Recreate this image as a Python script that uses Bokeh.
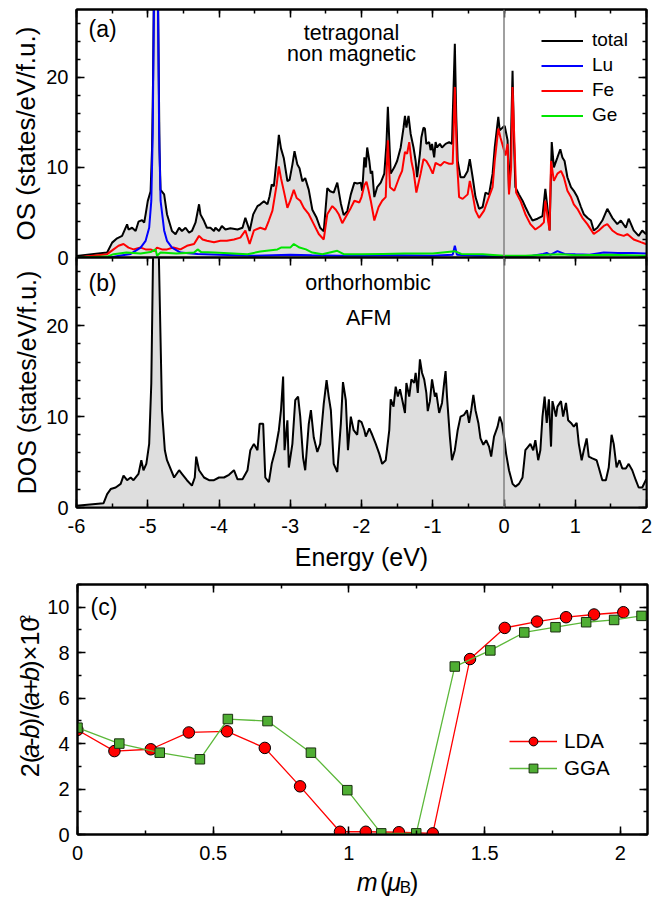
import math
from bokeh.plotting import figure
from bokeh.layouts import column, row
from bokeh.models import (LinearAxis, SingleIntervalTicker, Span, Label, Legend, LegendItem,
                          CustomJSTickFormatter, Range1d)
from bokeh.embed import file_html
from bokeh.resources import INLINE

FONT = "Liberation Sans"

# ---------------- panel (a): tetragonal, non magnetic ----------------
e_tot_a = [-6.00, -5.57, -5.50, -5.43, -5.36, -5.29, -5.27, -5.22, -5.17, -5.13, -5.08, -5.05, -5.03, -5.00,
           -4.96, -4.94, -4.925, -4.915, -4.885, -4.855, -4.845, -4.835, -4.82, -4.77, -4.73, -4.66, -4.61,
           -4.56, -4.52, -4.47, -4.42, -4.38, -4.33, -4.28, -4.26, -4.21, -4.17, -4.12, -4.07, -4.05, -4.00,
           -3.96, -3.91, -3.84, -3.74, -3.67, -3.63, -3.60, -3.57, -3.52, -3.46, -3.42, -3.37, -3.32, -3.29,
           -3.26, -3.23, -3.19, -3.16, -3.13, -3.09, -3.04, -3.01, -2.97, -2.94, -2.90, -2.87, -2.83, -2.79,
           -2.74, -2.69, -2.63, -2.58, -2.53, -2.48, -2.44, -2.39, -2.34, -2.29, -2.25, -2.20, -2.15, -2.10,
           -2.06, -2.01, -1.99, -1.96, -1.94, -1.92, -1.89, -1.87, -1.85, -1.82, -1.78, -1.73, -1.68, -1.65,
           -1.63, -1.61, -1.59, -1.54, -1.50, -1.45, -1.41, -1.39, -1.37, -1.34, -1.31, -1.27, -1.24, -1.22,
           -1.18, -1.16, -1.13, -1.11, -1.09, -1.05, -1.03, -1.01, -0.98, -0.96, -0.94, -0.90, -0.87, -0.82,
           -0.77, -0.73, -0.72, -0.69, -0.67, -0.65, -0.61, -0.56, -0.51, -0.48, -0.44, -0.40, -0.35, -0.30,
           -0.26, -0.21, -0.16, -0.13, -0.08, -0.06, -0.02, 0.01, 0.05, 0.07, 0.09, 0.12, 0.14, 0.16, 0.21,
           0.26, 0.30, 0.35, 0.40, 0.47, 0.54, 0.58, 0.62, 0.64, 0.67, 0.70, 0.75, 0.79, 0.82, 0.85, 0.89,
           0.94, 0.98, 1.03, 1.08, 1.12, 1.17, 1.22, 1.26, 1.31, 1.38, 1.45, 1.52, 1.59, 1.64, 1.71, 1.75,
           1.82, 1.89, 1.94, 1.99, 2.00]
dos_tot_a = [0.18, 0.55, 1.65, 2.13, 2.39, 3.68, 3.1, 3.3, 2.94, 3.97, 4.15, 3.86, 4.78, 6.25,
             7.35, 12.0, 20.0, 28.5, 44.0, 28.5, 20.0, 12.0, 7.5, 7.0, 4.8, 2.94, 2.57,
             3.3, 2.94, 3.3, 2.76, 2.94, 3.86, 5.9, 4.78, 4.04, 3.3, 3.3, 2.94, 3.3, 2.94,
             3.5, 3.1, 3.24, 3.1, 3.3, 4.4, 3.68, 2.94, 4.78, 5.7, 5.9, 6.25, 5.9, 6.8,
             8.1, 7.9, 11.0, 13.6, 12.1, 11.0, 8.46, 8.6, 10.3, 11.8, 10.3, 9.9, 8.46, 8.8,
             7.5, 5.3, 4.4, 3.3, 2.9, 7.7, 7.35, 7.2, 8.3, 6.0, 4.7, 5.15, 7.0, 8.3,
             8.2, 8.3, 7.4, 11.1, 10.0, 12.2, 10.7, 9.3, 9.6, 6.7, 7.8, 8.3, 9.3, 12.6,
             16.7, 13.0, 9.3, 10.0, 10.7, 12.2, 14.4, 15.7, 14.4, 15.7, 13.7, 12.2, 10.7, 8.9,
             11.5, 13.3, 14.4, 14.3, 12.6, 12.8, 11.9, 12.6, 11.1, 12.8, 12.2, 12.6, 12.2, 12.6,
             12.8, 12.6, 15.6, 23.7, 15.6, 10.7, 8.9, 8.9, 9.6, 10.9, 8.9, 6.7, 5.4, 5.6,
             7.2, 7.0, 9.3, 12.2, 15.6, 14.1, 14.4, 14.6, 13.0, 7.4, 10.4, 20.7, 13.0, 7.8, 7.0,
             6.3, 5.6, 4.8, 4.1, 4.3, 4.6, 7.6, 4.8, 3.0, 12.8, 10.0, 11.1, 12.0, 11.1, 10.7, 8.9,
             7.8, 7.4, 6.7, 5.6, 4.8, 4.4, 4.1, 3.0, 3.3, 4.1, 5.4, 4.4, 3.7, 4.1, 3.3, 4.3,
             3.0, 2.4, 3.0, 2.6, 2.7]

e_fe = [-6.00, -5.57, -5.48, -5.41, -5.34, -5.27, -5.20, -5.10, -5.03, -4.96, -4.91, -4.87, -4.80, -4.73,
        -4.64, -4.54, -4.45, -4.35, -4.28, -4.23, -4.17, -4.07, -3.98, -3.89, -3.79, -3.70, -3.63, -3.57,
        -3.51, -3.42, -3.35, -3.30, -3.25, -3.19, -3.16, -3.13, -3.08, -3.04, -3.00, -2.95, -2.91, -2.86,
        -2.81, -2.74, -2.67, -2.60, -2.53, -2.48, -2.41, -2.36, -2.32, -2.27, -2.20, -2.15, -2.10, -2.03,
        -2.00, -1.96, -1.93, -1.90, -1.87, -1.82, -1.76, -1.71, -1.66, -1.63, -1.60, -1.54, -1.47, -1.43,
        -1.39, -1.36, -1.33, -1.30, -1.27, -1.23, -1.17, -1.13, -1.09, -1.04, -1.00, -0.96, -0.89, -0.84,
        -0.77, -0.72, -0.69, -0.66, -0.63, -0.58, -0.51, -0.48, -0.44, -0.40, -0.35, -0.28, -0.23, -0.16,
        -0.13, -0.08, -0.05, -0.01, 0.02, 0.05, 0.07, 0.10, 0.12, 0.15, 0.17, 0.23, 0.30, 0.37, 0.44, 0.51,
        0.56, 0.58, 0.62, 0.64, 0.66, 0.70, 0.75, 0.80, 0.84, 0.89, 0.94, 0.98, 1.03, 1.10, 1.17, 1.26,
        1.33, 1.40, 1.45, 1.52, 1.59, 1.68, 1.73, 1.82, 1.92, 1.99, 2.00]
dos_fe = [0.0, 0.37, 0.9, 1.3, 1.5, 1.1, 0.9, 1.1, 0.9, 0.9, 0.7, 1.1, 0.9, 0.9,
          1.1, 0.9, 1.3, 1.5, 2.4, 2.0, 1.85, 1.7, 1.85, 1.85, 2.0, 2.2, 3.0, 1.5,
          3.0, 3.3, 3.1, 4.1, 5.2, 8.1, 10.1, 8.8, 7.0, 5.5, 6.3, 7.5, 6.6, 6.3,
          5.5, 4.8, 3.7, 2.6, 2.0, 4.8, 5.7, 5.3, 4.8, 3.8, 4.8, 5.5, 6.3, 6.1,
          6.7, 8.0, 8.4, 7.4, 6.3, 4.1, 5.6, 6.3, 6.7, 13.0, 7.8, 7.4, 8.9, 9.6,
          11.7, 11.5, 12.8, 10.7, 9.6, 7.2, 9.3, 10.9, 10.7, 10.0, 9.3, 10.5, 10.2, 10.6,
          10.4, 10.4, 18.9, 10.7, 6.7, 6.5, 7.0, 8.5, 7.0, 5.2, 4.4, 5.2, 6.3, 7.8,
          10.7, 14.3, 13.3, 12.2, 11.3, 12.6, 7.0, 10.0, 18.9, 12.0, 7.2, 6.3, 4.8, 3.7, 3.1, 3.5,
          3.9, 6.3, 4.0, 3.0, 10.7, 8.5, 9.3, 9.6, 8.9, 7.4, 6.7, 5.9, 5.4, 4.4, 3.7, 2.6,
          3.0, 3.5, 3.7, 3.0, 2.6, 2.4, 2.6, 2.0, 1.7, 1.5, 1.5]

e_lu = [-6.00, -5.52, -5.40, -5.24, -5.10, -5.03, -4.98, -4.95, -4.93, -4.915, -4.885, -4.855, -4.84,
        -4.82, -4.77, -4.73, -4.66, -4.54, -4.30, -4.00, -3.50, -3.00, -2.70, -2.30, -2.00, -1.50, -1.00,
        -0.72, -0.69, -0.66, -0.40, 0.00, 0.40, 0.55, 0.60, 0.65, 0.75, 0.85, 1.00, 1.20, 1.40, 1.60,
        1.80, 2.00]
dos_lu = [0.0, 0.0, 0.2, 0.4, 1.1, 1.85, 3.3, 6.3, 13.7, 27.0, 42.0, 27.0, 13.7,
          6.3, 3.0, 1.85, 1.1, 0.55, 0.4, 0.3, 0.2, 0.3, 0.25, 0.2, 0.2, 0.25, 0.2,
          0.3, 1.3, 0.3, 0.2, 0.1, 0.2, 0.4, 0.5, 0.3, 0.7, 0.4, 0.35, 0.3, 0.55, 0.5,
          0.5, 0.45]

e_ge = [-6.00, -5.57, -5.48, -5.30, -5.10, -4.96, -4.89, -4.87, -4.82, -4.60, -4.35, -4.30, -4.25,
        -4.07, -3.80, -3.60, -3.42, -3.18, -3.13, -3.00, -2.95, -2.87, -2.78, -2.69, -2.55, -2.34, -2.25,
        -2.00, -1.70, -1.40, -1.00, -0.69, -0.60, -0.30, 0.00, 0.30, 0.60, 0.80, 1.00, 1.50, 2.00]
dos_ge = [0.0, 0.1, 0.37, 0.55, 0.44, 0.6, 0.9, 0.2, 0.55, 0.44, 0.55, 0.9, 0.6,
          0.55, 0.45, 0.37, 0.66, 0.9, 1.1, 1.1, 1.5, 1.1, 0.9, 0.55, 0.37, 0.74, 0.37,
          0.35, 0.4, 0.45, 0.45, 0.7, 0.4, 0.35, 0.2, 0.2, 0.3, 0.35, 0.25, 0.3, 0.2]

# ---------------- panel (b): orthorhombic, AFM ----------------
e_tot_b = [-6.00, -5.62, -5.57, -5.52, -5.45, -5.38, -5.34, -5.29, -5.24, -5.20, -5.13, -5.09, -5.06,
           -5.02, -4.98, -4.95, -4.925, -4.885, -4.845, -4.80, -4.76, -4.73, -4.63, -4.56, -4.52, -4.45,
           -4.38, -4.34, -4.32, -4.28, -4.21, -4.14, -4.07, -4.00, -3.93, -3.86, -3.79, -3.74, -3.67, -3.60,
           -3.56, -3.51, -3.46, -3.43, -3.38, -3.35, -3.30, -3.26, -3.21, -3.16, -3.13, -3.10, -3.08, -3.04,
           -3.02, -2.97, -2.93, -2.89, -2.86, -2.82, -2.79, -2.74, -2.71, -2.67, -2.62, -2.58, -2.53, -2.49,
           -2.46, -2.43, -2.39, -2.34, -2.29, -2.26, -2.22, -2.19, -2.15, -2.11, -2.06, -2.04, -2.00, -1.96,
           -1.94, -1.89, -1.85, -1.80, -1.75, -1.71, -1.66, -1.61, -1.59, -1.55, -1.52, -1.49, -1.46, -1.43,
           -1.39, -1.37, -1.33, -1.30, -1.26, -1.24, -1.21, -1.18, -1.15, -1.12, -1.09, -1.07, -1.04, -1.01,
           -0.97, -0.95, -0.91, -0.87, -0.84, -0.82, -0.80, -0.76, -0.73, -0.69, -0.65, -0.61, -0.56, -0.52,
           -0.49, -0.46, -0.43, -0.40, -0.36, -0.33, -0.29, -0.25, -0.21, -0.18, -0.14, -0.09, -0.06, -0.03,
           0.00, 0.03, 0.07, 0.12, 0.16, 0.21, 0.26, 0.30, 0.34, 0.37, 0.41, 0.44, 0.48, 0.51, 0.54, 0.57,
           0.60, 0.63, 0.66, 0.68, 0.73, 0.75, 0.80, 0.83, 0.87, 0.90, 0.94, 0.98, 1.02, 1.05, 1.09, 1.12,
           1.16, 1.19, 1.24, 1.30, 1.33, 1.38, 1.43, 1.47, 1.51, 1.54, 1.58, 1.62, 1.66, 1.71, 1.75, 1.80,
           1.85, 1.89, 1.94, 1.99, 2.00]
dos_tot_b = [0.18, 0.48, 1.48, 2.03, 2.2, 2.6, 3.5, 3.0, 3.3, 3.0, 3.7, 5.2, 4.1,
             4.8, 7.0, 13.7, 28.0, 38.0, 28.0, 10.7, 6.3, 5.2, 3.3, 4.1, 3.7, 3.0,
             2.4, 3.3, 5.6, 4.1, 3.3, 3.0, 3.0, 3.3, 3.3, 3.6, 4.1, 3.1, 3.1, 4.1,
             6.3, 7.0, 6.3, 9.2, 9.2, 3.3, 2.8, 4.8, 6.3, 8.5, 10.7, 14.4, 6.3, 9.6,
             4.4, 7.0, 11.8, 12.2, 10.0, 5.5, 4.1, 9.2, 10.7, 7.7, 6.1, 7.0, 11.4, 14.0,
             12.2, 10.7, 4.8, 3.9, 9.2, 13.8, 11.8, 6.3, 10.0, 8.5, 8.0, 9.6, 9.4, 8.5,
             7.8, 8.7, 8.0, 7.0, 5.9, 4.8, 5.2, 8.5, 11.9, 11.1, 13.3, 12.2, 13.0, 11.9,
             10.4, 13.7, 12.2, 14.1, 13.7, 14.8, 12.6, 16.3, 14.8, 14.1, 12.6, 10.6, 11.7, 14.1,
             12.2, 12.6, 10.4, 11.5, 13.7, 15.0, 12.2, 7.8, 5.2, 6.3, 8.5, 10.0, 10.2, 10.7,
             9.3, 10.7, 12.4, 10.7, 9.3, 7.6, 6.9, 7.4, 6.7, 5.6, 7.8, 8.9, 10.0, 9.3,
             7.8, 5.9, 4.1, 2.6, 2.3, 2.6, 3.3, 6.3, 6.7, 7.0, 6.3, 7.4, 5.2, 6.3, 10.0, 12.2,
             9.3, 11.9, 6.7, 11.7, 10.0, 11.1, 11.7, 10.0, 11.5, 9.6, 9.3, 8.9, 9.3, 7.0, 5.2, 6.3,
             7.6, 5.6, 5.4, 5.2, 4.4, 3.0, 3.0, 4.4, 8.0, 7.0, 4.4, 5.2, 4.3, 4.3, 4.8, 4.1,
             3.0, 2.2, 2.2, 3.0, 3.1]

# ---------------- panel (c): orthorhombicity vs moment ----------------
m_lda = [0.0, 0.136, 0.27, 0.41, 0.551, 0.69, 0.82, 0.967, 1.062, 1.184, 1.309, 1.446, 1.574, 1.693,
         1.80, 1.903, 2.011]
v_lda = [4.6, 3.67, 3.75, 4.49, 4.54, 3.81, 2.12, 0.12, 0.12, 0.1, 0.05, 7.72, 9.09, 9.37,
         9.56, 9.68, 9.78]
m_gga = [0.0, 0.154, 0.303, 0.451, 0.554, 0.70, 0.86, 0.994, 1.119, 1.248, 1.39, 1.521, 1.646, 1.761,
         1.874, 1.977, 2.078]
v_gga = [4.7, 4.0, 3.6, 3.31, 5.08, 4.99, 3.6, 1.95, 0.05, 0.05, 7.39, 8.1, 8.89, 9.12,
         9.34, 9.44, 9.62]


def style_axis(ax):
    ax.axis_line_width = 2
    ax.axis_line_color = "black"
    ax.major_tick_in = 8
    ax.major_tick_out = 0
    ax.minor_tick_in = 4
    ax.minor_tick_out = 0
    ax.major_tick_line_width = 1.5
    ax.minor_tick_line_width = 1.5
    ax.major_tick_line_color = "black"
    ax.minor_tick_line_color = "black"
    ax.major_label_text_font = FONT
    ax.major_label_text_font_size = "20px"
    ax.major_label_text_color = "black"
    ax.major_label_standoff = 8
    ax.axis_label_text_font = FONT
    ax.axis_label_text_font_size = "25px"
    ax.axis_label_text_font_style = "normal"
    ax.axis_label_text_color = "black"
    ax.axis_label_standoff = 2


def mirror(p, side, interval, nminor):
    ax = LinearAxis(ticker=SingleIntervalTicker(interval=interval, num_minor_ticks=nminor),
                    formatter=CustomJSTickFormatter(code="return ''"))
    style_axis(ax)
    ax.major_label_text_font_size = "1px"
    ax.major_label_standoff = 0
    p.add_layout(ax, side)


def base_fig(width, height, top, bottom, left, right, xr, yr, xaxis):
    p = figure(width=width, height=height, x_range=Range1d(*xr), y_range=Range1d(*yr),
               x_axis_location="below" if xaxis else None, y_axis_location="left",
               toolbar_location=None, output_backend="svg",
               min_border_top=top, min_border_bottom=bottom, min_border_left=left, min_border_right=right)
    p.grid.visible = False
    p.outline_line_color = "black"
    p.outline_line_width = 2
    p.background_fill_color = "white"
    p.border_fill_color = "white"
    return p


def text_fig(width, height):
    p = figure(width=width, height=height, x_range=Range1d(0, width), y_range=Range1d(0, height),
               x_axis_location=None, y_axis_location=None, toolbar_location=None, output_backend="svg",
               min_border=0, min_border_left=0, min_border_right=0, min_border_top=0, min_border_bottom=0)
    p.grid.visible = False
    p.outline_line_color = None
    p.background_fill_color = "white"
    p.border_fill_color = "white"
    return p


def add_text(p, x, y, text, size, align="left", baseline="middle", style="normal", angle=0.0):
    p.add_layout(Label(x=x, y=y, text=text, text_font=FONT, text_font_size=size, text_font_style=style,
                       text_align=align, text_baseline=baseline, text_color="black", angle=angle))


GRAY = "#dedede"
EFMT = "return tick.toFixed(0)"

# ----- (a)
pa = base_fig(665, 267, 9, 10, 76, 19, (-6, 2), (0, 27.5), False)
pa.yaxis.ticker = SingleIntervalTicker(interval=10, num_minor_ticks=5)
style_axis(pa.yaxis[0])
pa.yaxis.axis_label = "OS (states/eV/f.u.)"
pa.yaxis.axis_label_text_font_size = "26px"
mirror(pa, "above", 1, 2)
mirror(pa, "right", 10, 5)
pa.varea(x=e_tot_a, y1=0, y2=dos_tot_a, fill_color=GRAY)
r_tot = pa.line(e_tot_a, dos_tot_a, line_color="black", line_width=2)
r_fe = pa.line(e_fe, dos_fe, line_color="#ff0000", line_width=2)
r_lu = pa.line(e_lu, dos_lu, line_color="#0000ff", line_width=2)
r_ge = pa.line(e_ge, dos_ge, line_color="#00e600", line_width=2)
pa.add_layout(Span(location=0, dimension="height", line_color="#808080", line_width=1.5))
leg_a = Legend(items=[LegendItem(label="total", renderers=[r_tot]),
                      LegendItem(label="Lu", renderers=[r_lu]),
                      LegendItem(label="Fe", renderers=[r_fe]),
                      LegendItem(label="Ge", renderers=[r_ge])],
               location=(465, 131), glyph_width=42, glyph_height=21, label_standoff=9, spacing=3,
               padding=0, margin=0, border_line_color=None, background_fill_alpha=0,
               label_text_font=FONT, label_text_font_size="19px", label_text_color="black")
pa.add_layout(leg_a)
add_text(pa, -5.83, 25.3, "(a)", "23px")
add_text(pa, -2.14, 24.9, "tetragonal", "21.5px", align="center")
add_text(pa, -2.14, 22.6, "non magnetic", "21.5px", align="center")

# ----- (b)  (pulled up so that its frame meets the frame of (a))
pb = base_fig(665, 324, 4, 70, 76, 19, (-6, 2), (0, 27.5), True)
pb.margin = (-14, 0, 0, 0)
pb.border_fill_alpha = 0
pb.xaxis.ticker = SingleIntervalTicker(interval=1, num_minor_ticks=2)
pb.xaxis.formatter = CustomJSTickFormatter(code=EFMT)
pb.yaxis.ticker = SingleIntervalTicker(interval=10, num_minor_ticks=5)
style_axis(pb.xaxis[0])
style_axis(pb.yaxis[0])
pb.xaxis.major_label_standoff = 11
pb.xaxis.axis_label_standoff = 7
pb.xaxis.axis_label = "Energy (eV)"
pb.yaxis.axis_label = "DOS (states/eV/f.u.)"
mirror(pb, "above", 1, 2)
mirror(pb, "right", 10, 5)
pb.varea(x=e_tot_b, y1=0, y2=dos_tot_b, fill_color=GRAY)
pb.line(e_tot_b, dos_tot_b, line_color="black", line_width=2)
pb.add_layout(Span(location=0, dimension="height", line_color="#808080", line_width=1.5))
add_text(pb, -5.83, 24.75, "(b)", "23px")
add_text(pb, -1.91, 24.75, "orthorhombic", "21.5px", align="center")
add_text(pb, -1.90, 20.8, "AFM", "21.5px", align="center")

# ----- (c)
pc = base_fig(621, 293, 7, 36, 32, 18, (0, 2.1), (0, 11), True)
pc.xaxis.ticker = SingleIntervalTicker(interval=0.5, num_minor_ticks=2)
pc.yaxis.ticker = SingleIntervalTicker(interval=2, num_minor_ticks=2)
pc.xaxis.formatter = CustomJSTickFormatter(code="return String(Math.round(tick*100)/100)")
style_axis(pc.xaxis[0])
style_axis(pc.yaxis[0])
pc.xaxis.major_label_standoff = 11
mirror(pc, "above", 0.5, 2)
mirror(pc, "right", 2, 2)
l_lda = pc.line(m_lda, v_lda, line_color="#ff0000", line_width=1.3)
s_lda = pc.scatter(m_lda, v_lda, marker="circle", size=11.5, fill_color="#ff0000",
                   line_color="black", line_width=1)
l_gga = pc.line(m_gga, v_gga, line_color="#5cb83a", line_width=1.3)
s_gga = pc.scatter(m_gga, v_gga, marker="square", size=9.5, fill_color="#4fae33",
                   line_color="#1a3010", line_width=1)
leg_c = Legend(items=[LegendItem(label="LDA", renderers=[l_lda, s_lda]),
                      LegendItem(label="GGA", renderers=[l_gga, s_gga])],
               location=(432, 54), glyph_width=48, glyph_height=22, label_standoff=7, spacing=3,
               padding=0, margin=0, border_line_color=None, background_fill_alpha=0,
               label_text_font=FONT, label_text_font_size="20.5px", label_text_color="black")
pc.add_layout(leg_c)
add_text(pc, 0.048, 9.99, "(c)", "23px")

# y-axis title of (c): 2(a-b)/(a+b)x10^2, set in a narrow strip left of the panel
ylab = text_fig(44, 293)
ypieces = [("2(", "normal", 0.0), ("a", "italic", 22.67), ("-", "normal", 36.85), ("b", "italic", 45.34),
           (")/(", "normal", 59.52), ("a", "italic", 83.59), ("+", "normal", 97.77), ("b", "italic", 112.66),
           (")\u00d710", "normal", 126.84)]
for txt, style, off in ypieces:
    add_text(ylab, 29, 67 + off, txt, "25.5px", style=style, angle=math.pi / 2)
add_text(ylab, 24.5, 67 + 180.5, "2", "15.5px", angle=math.pi / 2)

# x-axis title of (c): m (mu_B), set in a transparent strip overlapping the panel's lower border
xlab = text_fig(665, 37)
xlab.margin = (-10, 0, 0, 0)
xlab.background_fill_alpha = 0
xlab.border_fill_alpha = 0
xpieces = [("m", "italic", "25px", 327, 16), ("(", "normal", "25px", 354, 16),
           ("\u03bc", "italic", "25px", 362.5, 16), ("B", "normal", "17px", 377, 10.5),
           (")", "normal", "25px", 389, 16)]
for txt, style, size, xo, yo in xpieces:
    add_text(xlab, xo, yo, txt, size, style=style)

layout = column(pa, pb, row(ylab, pc, spacing=0), xlab, spacing=0)
open("out.html", "w").write(file_html(layout, INLINE))
